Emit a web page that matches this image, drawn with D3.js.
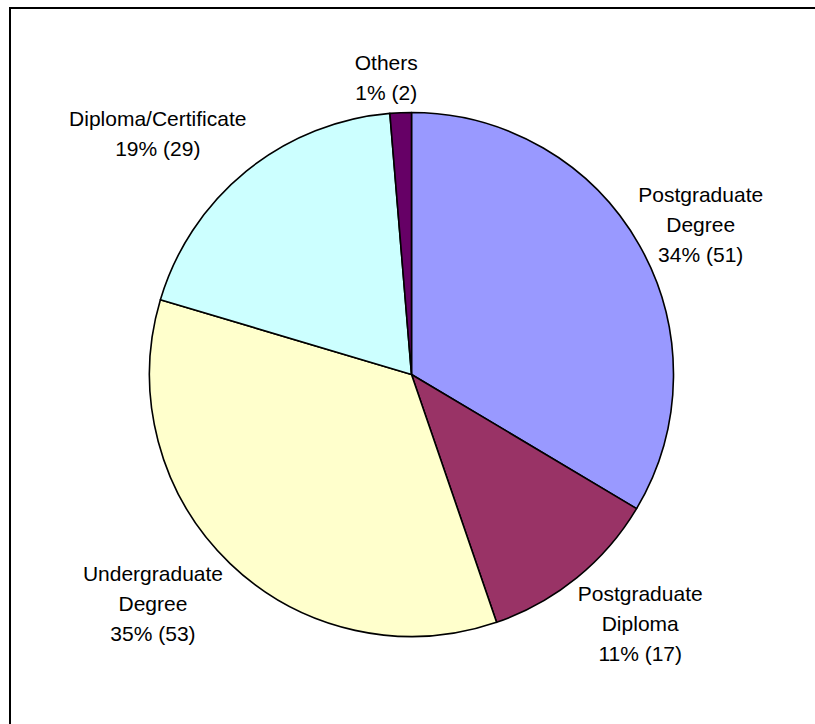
<!DOCTYPE html>
<html>
<head>
<meta charset="utf-8">
<script src="https://cdn.jsdelivr.net/npm/d3@7"></script>
<style>
  html, body { margin: 0; padding: 0; background: #fff; }
  svg { display: block; }
  text { font-family: "Liberation Sans", Arial, sans-serif; font-size: 21px; fill: #000; }
</style>
</head>
<body>
<svg id="chart" width="815" height="724"></svg>
<script>
// Qualification categories, clockwise from 12 o'clock
const categories = [
  ["Postgraduate", "Degree"],
  ["Postgraduate", "Diploma"],
  ["Undergraduate", "Degree"],
  ["Diploma/Certificate"],
  ["Others"]
];
const counts = [51, 17, 53, 29, 2];
const colors = ["#9999FF", "#993366", "#FFFFCC", "#CCFFFF", "#660066"];

// Label placement: shift from a point just outside the rim at each slice's mid-angle
const labelNudge = [[11, 8], [27, 1], [-37, -2], [-52, 7], [-12, 23]];

const svg = d3.select("#chart");
const W = 815, H = 724;
const cx = 411.5, cy = 374.5, radius = 262;
const labelRadius = 320, lineH = 30;

// Outer frame (right and bottom edges fall outside the view)
svg.append("rect")
  .attr("x", 10).attr("y", 8)
  .attr("width", W + 20).attr("height", H + 20)
  .attr("fill", "#fff")
  .attr("stroke", "#000")
  .attr("stroke-width", 2);

const total = d3.sum(counts);
const data = counts.map((v, i) => ({ lines: categories[i], value: v, color: colors[i], idx: i }));

const pie = d3.pie().value(d => d.value).sort(null).startAngle(0).endAngle(2 * Math.PI);
const arc = d3.arc().innerRadius(0).outerRadius(radius);
const arcs = pie(data);

const g = svg.append("g").attr("transform", `translate(${cx},${cy})`);

g.selectAll("path.slice")
  .data(arcs)
  .join("path")
  .attr("class", "slice")
  .attr("d", arc)
  .attr("fill", d => d.data.color)
  .attr("stroke", "#000")
  .attr("stroke-width", 1.6)
  .attr("stroke-linejoin", "round");

// Data labels: category name, percentage and count
const labels = g.selectAll("text.label")
  .data(arcs)
  .join("text")
  .attr("class", "label")
  .attr("text-anchor", "middle");

labels.each(function (d) {
  const mid = (d.startAngle + d.endAngle) / 2;
  const nudge = labelNudge[d.data.idx];
  const x = labelRadius * Math.sin(mid) + nudge[0];
  const y = -labelRadius * Math.cos(mid) + nudge[1];
  const pct = Math.round(d.data.value / total * 100);
  const lines = d.data.lines.concat([`${pct}% (${d.data.value})`]);
  const n = lines.length;
  const t = d3.select(this);
  lines.forEach((s, i) => {
    t.append("tspan")
      .attr("x", x)
      .attr("y", y + 7.5 + (i - (n - 1) / 2) * lineH)
      .text(s);
  });
});
</script>
</body>
</html>
